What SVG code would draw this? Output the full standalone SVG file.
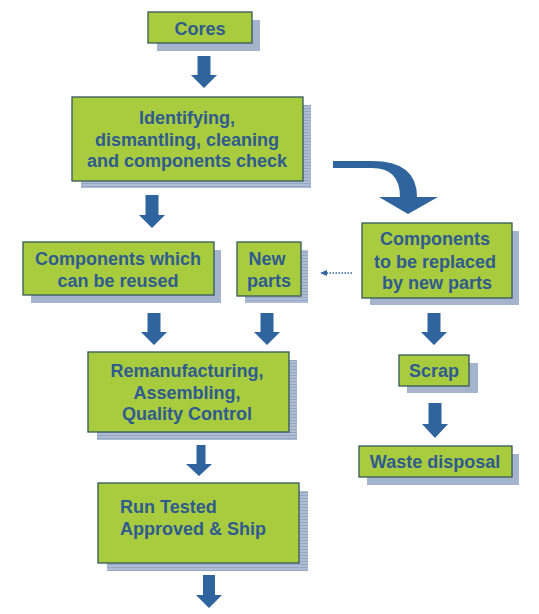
<svg xmlns="http://www.w3.org/2000/svg" width="539" height="614" viewBox="0 0 539 614">
<defs>
<style>
.box{fill:#a9cb3e;stroke:#35585a;stroke-width:1.3}
.sh{fill:#a4b4cc}
.t{font-family:"Liberation Sans",Arial,sans-serif;font-weight:bold;font-size:18px;fill:#2f5b8f;text-anchor:middle}
.tl{text-anchor:start}
.arr{fill:#30649e}
</style>
<pattern id="stripe" width="4" height="3" patternUnits="userSpaceOnUse">
<rect width="4" height="3" fill="#aebdd3"/>
<rect width="4" height="1" fill="#94a6c2"/>
</pattern>
<marker id="ah" viewBox="0 0 10 10" refX="9" refY="5" markerWidth="6" markerHeight="6" orient="auto">
<path d="M0,0 L10,5 L0,10 Z" fill="#30649e" transform="rotate(180 5 5)"/>
</marker>
</defs>
<rect width="539" height="614" fill="#ffffff"/>

<g id="cores">
<rect class="sh" x="157" y="20" width="103" height="31"/>
<rect class="box" x="148" y="12" width="104" height="31"/>
<text class="t" x="200" y="35">Cores</text>
</g>

<g id="identifying">
<rect fill="url(#stripe)" x="81" y="105" width="230" height="83"/>
<rect class="box" x="72" y="97" width="231" height="84"/>
<text class="t" x="187" y="124">Identifying,</text>
<text class="t" x="187" y="146">dismantling, cleaning</text>
<text class="t" x="187" y="167">and components check</text>
</g>

<g id="replaced">
<rect class="sh" x="370" y="231" width="149" height="74"/>
<rect class="box" x="362" y="223" width="150" height="75"/>
<text class="t" x="435" y="245">Components</text>
<text class="t" x="435" y="268">to be replaced</text>
<text class="t" x="437" y="289">by new parts</text>
</g>

<g id="reused">
<rect class="sh" x="31" y="250" width="190" height="53"/>
<rect class="box" x="23" y="242" width="191" height="53"/>
<text class="t" x="118" y="265">Components which</text>
<text class="t" x="118" y="287">can be reused</text>
</g>

<g id="newparts">
<rect fill="url(#stripe)" x="245" y="250" width="63" height="53"/>
<rect class="box" x="237" y="242" width="64" height="54"/>
<text class="t" x="267" y="265">New</text>
<text class="t" x="269" y="287">parts</text>
</g>

<g id="reman">
<rect fill="url(#stripe)" x="97" y="360" width="200" height="80"/>
<rect class="box" x="88" y="352" width="201" height="80"/>
<text class="t" x="187" y="377">Remanufacturing,</text>
<text class="t" x="187" y="399">Assembling,</text>
<text class="t" x="187" y="420">Quality Control</text>
</g>

<g id="scrap">
<rect class="sh" x="407" y="363" width="71" height="30"/>
<rect class="box" x="399" y="355" width="70" height="31"/>
<text class="t" x="434" y="377">Scrap</text>
</g>

<g id="waste">
<rect class="sh" x="367" y="454" width="152" height="31"/>
<rect class="box" x="359" y="446" width="153" height="31"/>
<text class="t" x="435" y="468">Waste disposal</text>
</g>

<g id="runtested">
<rect fill="url(#stripe)" x="107" y="491" width="201" height="80"/>
<rect class="box" x="98" y="483" width="201" height="80"/>
<text class="t tl" x="120" y="513">Run Tested</text>
<text class="t tl" x="120" y="535">Approved &amp; Ship</text>
</g>

<g id="connectors">
<path class="arr" d="M197.5,56 H210.5 V75 H217 L204,88 L191,75 H197.5 Z"/>
<path class="arr" d="M145.5,195 H158.5 V215 H165 L152,228 L139,215 H145.5 Z"/>
<path class="arr" d="M333,161 H372 Q417,161 417,197 H438 L408,214 L379,197 H400 Q400,168 372,168 H333 Z"/>
<path class="arr" d="M147.5,313 H160.5 V332 H167 L154,345 L141,332 H147.5 Z"/>
<path class="arr" d="M260.5,313 H273.5 V332 H280 L267,345 L254,332 H260.5 Z"/>
<path class="arr" d="M427.5,313 H440.5 V332 H447 L434,345 L421,332 H427.5 Z"/>
<path class="arr" d="M428.5,403 H441.5 V424 H448 L435,438 L422,424 H428.5 Z"/>
<path class="arr" d="M196.5,445 H205.5 V464 H212 L199,476 L186,464 H196.5 Z"/>
<path class="arr" d="M203,575 H215 V595 H222 L209,608 L196,595 H203 Z"/>
<line x1="352" y1="273" x2="326" y2="273" stroke="#30649e" stroke-width="1.3" stroke-dasharray="1.5 1.5"/>
<path d="M320,273 L327,270 L327,276 Z" fill="#30649e"/>
</g>
</svg>
